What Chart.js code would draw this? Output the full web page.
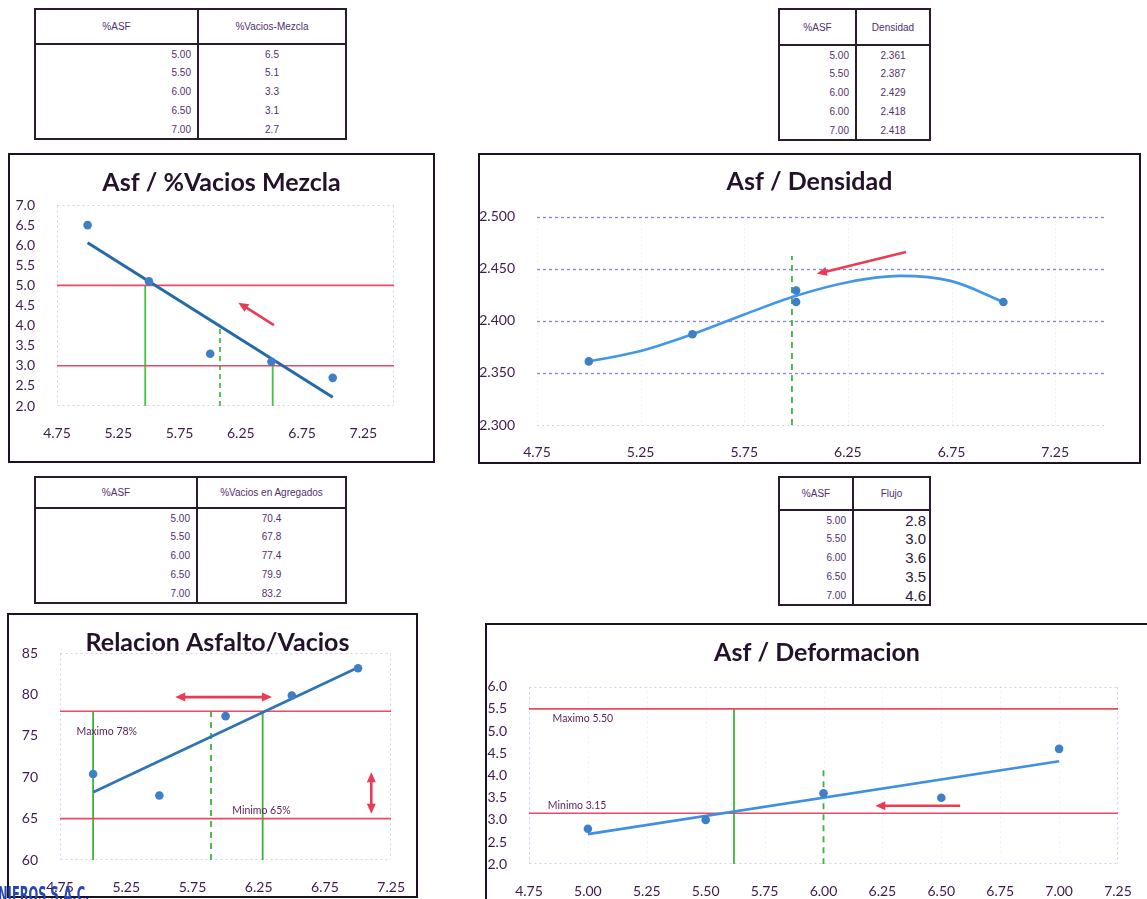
<!DOCTYPE html>
<html lang="es">
<head>
<meta charset="utf-8">
<title>Diseño Marshall – %ASF</title>
<script src="https://cdn.jsdelivr.net/npm/chart.js@4.4.1/dist/chart.umd.min.js"></script>
<style>
  html, body { margin: 0; padding: 0; background: #fff; }
  body { width: 1147px; height: 899px; position: relative; overflow: hidden; }
  .box { position: absolute; border: 2px solid #1d1222; box-sizing: border-box; }
  canvas.plot { position: absolute; }
  table.tb { position: absolute; border-collapse: collapse; table-layout: fixed;
             color: #51306b; font-family: "Liberation Sans", Arial, sans-serif; font-size: 10px; }
  table.tb th, table.tb td { border-left: 2px solid #2a1a2d; border-right: 2px solid #2a1a2d;
             padding: 0; white-space: nowrap; overflow: hidden; }
  table.tb th { border-top: 2px solid #2a1a2d; border-bottom: 2px solid #2a1a2d;
             font-weight: normal; text-align: center; }
  table.tb tr:last-child td { border-bottom: 2px solid #2a1a2d; }
  table.tb td.n { text-align: right; padding-right: 6px; }
  table.tb td.v { text-align: center; }
  table.tb td.big { text-align: right; padding-right: 3px; font-size: 15px; color: #2a2030; }
  .stamp { position: absolute; left: -2px; top: 882px; color: #2747b5; font-weight: bold;
           font-family: "Liberation Sans Narrow", "DejaVu Sans Condensed", sans-serif; font-size: 22px;
           transform: scaleX(0.58); transform-origin: 0 0; white-space: nowrap; }
</style>
</head>
<body>

<div class="box" style="left:8px;top:153px;width:427px;height:310px"></div>
<div class="box" style="left:478px;top:153px;width:663px;height:311px"></div>
<div class="box" style="left:7px;top:613px;width:411px;height:285px"></div>
<div class="box" style="left:485px;top:623px;width:670px;height:290px"></div>

<canvas class="plot" id="cMezcla"></canvas>
<canvas class="plot" id="cDensidad"></canvas>
<canvas class="plot" id="cAgregados"></canvas>
<canvas class="plot" id="cFlujo"></canvas>

<div class="stamp">NIEROS S.A.C.</div>

<script>
// ---------- ensayos Marshall ----------
const asfContent      = [5.00, 5.50, 6.00, 6.50, 7.00];
const asfDensidad     = [5.00, 5.50, 6.00, 6.00, 7.00];
const vaciosMezcla    = [6.5, 5.1, 3.3, 3.1, 2.7];
const densidad        = [2.361, 2.387, 2.429, 2.418, 2.418];
const vaciosAgregados = [70.4, 67.8, 77.4, 79.9, 83.2];
const flujo           = [2.8, 3.0, 3.6, 3.5, 4.6];

// ---------- líneas de tendencia ----------
const trendX         = [5.00, 7.00];
const mezclaTrend    = [6.06, 2.22];
const agregadosTrend = [68.20, 83.28];
const flujoTrend     = [2.68, 4.32];
const densidadCurveX = [5.00, 5.25, 5.50, 5.75, 6.00, 6.25, 6.50, 6.75, 7.00];
const densidadCurveY = [2.361, 2.371, 2.387, 2.406, 2.424, 2.437, 2.443, 2.438, 2.418];

// ---------- límites de especificación ----------
const mezclaLimits    = [5.0, 3.0];
const agregadosLimits = [78, 65];
const flujoLimits     = [5.50, 3.15];

// ---------- lecturas verticales: [%asf, valor superior] ----------
const mezclaSolid     = [[5.47, 5.0], [6.51, 3.1]];
const mezclaDashed    = [[6.08, 4.03]];
const densidadDashed  = [[5.98, 2.462]];
const agregadosSolid  = [[5.00, 78], [6.28, 78]];
const agregadosDashed = [[5.89, 78]];
const flujoSolid      = [[5.62, 5.50]];
const flujoDashed     = [[6.00, 4.16]];

// ---------- flechas y rótulos ----------
const mezclaArrows    = [{ from: [6.52, 4.01], to: [6.23, 4.57] }];
const densidadArrows  = [{ from: [6.53, 2.466], to: [6.10, 2.445] }];
const agregadosArrows = [{ from: [5.62, 79.7], to: [6.35, 79.7], both: true },
                         { from: [7.10, 70.6], to: [7.10, 65.6], both: true }];
const flujoArrows     = [{ from: [6.58, 3.32], to: [6.22, 3.32] }];
const agregadosNotes  = [{ text: 'Maximo 78%', at: [4.875, 75.5] }, { text: 'Minimo 65%', at: [6.05, 66.0] }];
const flujoNotes      = [{ text: 'Maximo 5.50', at: [4.85, 5.29] }, { text: 'Minimo 3.15', at: [4.83, 3.33] }];

// ---------- ticks ----------
const xTicksHalf      = [4.75, 5.25, 5.75, 6.25, 6.75, 7.25];
const xTicksQuarter   = [4.75, 5.00, 5.25, 5.50, 5.75, 6.00, 6.25, 6.50, 6.75, 7.00, 7.25];
const yTicksMezcla    = [2.0, 2.5, 3.0, 3.5, 4.0, 4.5, 5.0, 5.5, 6.0, 6.5, 7.0];
const yTicksDensidad  = [2.300, 2.350, 2.400, 2.450, 2.500];
const yTicksAgregados = [60, 65, 70, 75, 80, 85];
const yTicksFlujo     = [2.0, 2.5, 3.0, 3.5, 4.0, 4.5, 5.0, 5.5, 6.0];

// ---------- tablas ----------
function buildTable(spec) {
  const t = document.createElement('table');
  t.className = 'tb';
  t.style.left = spec.left + 'px';
  t.style.top = spec.top + 'px';
  t.style.width = (spec.widths[0] + spec.widths[1]) + 'px';
  const cg = document.createElement('colgroup');
  spec.widths.forEach(w => { const c = document.createElement('col'); c.style.width = w + 'px'; cg.appendChild(c); });
  t.appendChild(cg);
  const hr = t.insertRow();
  hr.style.height = spec.headH + 'px';
  spec.headers.forEach(h => { const th = document.createElement('th'); th.textContent = h; hr.appendChild(th); });
  spec.col1.forEach((v, i) => {
    const r = t.insertRow();
    r.style.height = spec.rowH + 'px';
    const a = r.insertCell(); a.className = 'n'; a.textContent = v;
    const b = r.insertCell(); b.className = spec.col2Class; b.textContent = spec.col2[i];
  });
  document.body.appendChild(t);
}
const f = d => v => v.toFixed(d);
buildTable({ left: 34, top: 8, widths: [163, 148], headH: 35, rowH: 19, headers: ['%ASF', '%Vacios-Mezcla'],
  col1: asfContent.map(f(2)), col2: vaciosMezcla.map(f(1)), col2Class: 'v' });
buildTable({ left: 778, top: 8, widths: [77, 74], headH: 36, rowH: 19, headers: ['%ASF', 'Densidad'],
  col1: asfDensidad.map(f(2)), col2: densidad.map(f(3)), col2Class: 'v' });
buildTable({ left: 34, top: 476, widths: [162, 149], headH: 31, rowH: 19, headers: ['%ASF', '%Vacios en Agregados'],
  col1: asfContent.map(f(2)), col2: vaciosAgregados.map(f(1)), col2Class: 'v' });
buildTable({ left: 778, top: 476, widths: [74, 77], headH: 33, rowH: 19, headers: ['%ASF', 'Flujo'],
  col1: asfContent.map(f(2)), col2: flujo.map(f(1)), col2Class: 'big' });

// ---------- estilos ----------
const TICK = '#3d1a4a';
const TITLE = '#24112a';
const POINT = '#3f7fc6';
const RED = '#ea4863';
const GREEN = '#3cb43c';
const ARROW = '#e93c55';
const FAINT = 'rgba(175,170,230,0.55)';

const pts = (xs, ys) => xs.map((x, i) => ({ x, y: ys[i] }));
const hline = (v, x0, x1) => [{ x: x0, y: v }, { x: x1, y: v }];
const vline = (xy, bottom) => [{ x: xy[0], y: bottom }, { x: xy[0], y: xy[1] }];

function lineSet(data, color, width, extra) {
  return Object.assign({ data, showLine: true, borderColor: color, backgroundColor: color,
    borderWidth: width, pointRadius: 0, pointHoverRadius: 0, fill: false }, extra || {});
}

// rejilla punteada y marco del área de trazado
function plotGrid(spec) {
  return {
    id: 'plotGrid',
    beforeDatasetsDraw(chart) {
      const { ctx, chartArea: a, scales: { x, y } } = chart;
      const line = (x0, y0, x1, y1, st) => {
        ctx.strokeStyle = st.color; ctx.lineWidth = st.width || 1; ctx.setLineDash(st.dash || []);
        ctx.beginPath(); ctx.moveTo(x0, y0); ctx.lineTo(x1, y1); ctx.stroke();
      };
      ctx.save();
      if (spec.v) x.ticks.forEach(t => {
        const p = Math.round(x.getPixelForValue(t.value)) + 0.5; line(p, a.top, p, a.bottom, spec.v);
      });
      if (spec.h) y.ticks.forEach(t => {
        const st = spec.h(t.value); if (!st) return;
        const p = Math.round(y.getPixelForValue(t.value)) + 0.5; line(a.left, p, a.right, p, st);
      });
      if (spec.frame) {
        const L = Math.round(a.left) + 0.5, R = Math.round(a.right) - 0.5;
        const T = Math.round(a.top) + 0.5, B = Math.round(a.bottom) - 0.5;
        line(L, T, R, T, spec.frame); line(L, B, R, B, spec.frame);
        line(L, T, L, B, spec.frame); line(R, T, R, B, spec.frame);
      }
      ctx.restore();
    }
  };
}

// flechas y rótulos sobre el gráfico
function overlay(spec) {
  return {
    id: 'overlay',
    afterDatasetsDraw(chart) {
      const { ctx, scales: { x, y } } = chart;
      ctx.save();
      (spec.arrows || []).forEach(ar => {
        const x0 = x.getPixelForValue(ar.from[0]), y0 = y.getPixelForValue(ar.from[1]);
        const x1 = x.getPixelForValue(ar.to[0]), y1 = y.getPixelForValue(ar.to[1]);
        const ang = Math.atan2(y1 - y0, x1 - x0);
        const L = 10, W = 4.5;
        const head = (hx, hy, a) => {
          ctx.beginPath();
          ctx.moveTo(hx, hy);
          ctx.lineTo(hx - L * Math.cos(a) + W * Math.sin(a), hy - L * Math.sin(a) - W * Math.cos(a));
          ctx.lineTo(hx - L * Math.cos(a) - W * Math.sin(a), hy - L * Math.sin(a) + W * Math.cos(a));
          ctx.closePath(); ctx.fill();
        };
        ctx.strokeStyle = ARROW; ctx.fillStyle = ARROW; ctx.lineWidth = 2.6; ctx.lineCap = 'butt';
        const sx = ar.both ? x0 + (L - 2) * Math.cos(ang) : x0, sy = ar.both ? y0 + (L - 2) * Math.sin(ang) : y0;
        ctx.beginPath();
        ctx.moveTo(sx, sy);
        ctx.lineTo(x1 - (L - 2) * Math.cos(ang), y1 - (L - 2) * Math.sin(ang));
        ctx.stroke();
        head(x1, y1, ang);
        if (ar.both) head(x0, y0, ang + Math.PI);
      });
      ctx.fillStyle = '#5a1f52';
      ctx.font = '10.5px Lato, "Liberation Sans", sans-serif';
      ctx.textAlign = 'left'; ctx.textBaseline = 'middle';
      (spec.notes || []).forEach(n => ctx.fillText(n.text, x.getPixelForValue(n.at[0]), y.getPixelForValue(n.at[1])));
      ctx.restore();
    }
  };
}

function makeChart(id, o) {
  const g = o.geo;
  const cv = document.getElementById(id);
  cv.width = g.c.w; cv.height = g.c.h;
  cv.style.left = g.c.l + 'px'; cv.style.top = g.c.t + 'px';
  const fs = 25, lh = fs * 1.2;
  const padTop = o.titleY - g.c.t - lh / 2;
  const titleBottom = (g.a.t - g.c.t) - padTop - lh;
  const yW = g.a.l - g.c.l;
  const xH = (g.c.t + g.c.h) - g.a.b;
  const rW = (g.c.l + g.c.w) - g.a.r;
  const tickFont = { family: 'Lato, "Liberation Sans", sans-serif', size: 14 };

  return new Chart(cv, {
    type: 'scatter',
    data: { datasets: o.datasets },
    options: {
      responsive: false, animation: false, devicePixelRatio: 1,
      layout: { padding: { top: padTop, left: 0, right: 0, bottom: 0 } },
      plugins: {
        legend: { display: false }, tooltip: { enabled: false },
        title: { display: true, text: o.title, color: TITLE,
                 font: { family: 'Lato, "Liberation Sans", sans-serif', size: fs, weight: 'bold' },
                 padding: { top: 0, bottom: titleBottom } }
      },
      scales: {
        x: { type: 'linear', min: o.x[0], max: o.x[1],
             afterBuildTicks: s => { s.ticks = o.xTicks.map(v => ({ value: v })); },
             afterFit: s => { s.height = xH; },
             grid: { display: false }, border: { display: false },
             ticks: { padding: 11, color: TICK, font: tickFont, autoSkip: false, maxRotation: 0,
                      callback: v => v.toFixed(2) } },
        y: { type: 'linear', min: o.y[0], max: o.y[1],
             afterBuildTicks: s => { s.ticks = o.yTicks.map(v => ({ value: v })); },
             afterFit: s => { s.width = yW; },
             grid: { display: false }, border: { display: false },
             ticks: { padding: 14, color: TICK, font: tickFont, autoSkip: false,
                      callback: v => v.toFixed(o.yDec) } },
        pad: { type: 'linear', position: 'right', display: true,
               afterFit: s => { s.width = rW; },
               grid: { display: false }, border: { display: false }, ticks: { display: false } }
      }
    },
    plugins: [plotGrid(o.grid), overlay(o.overlay)]
  });
}

const pointStyle = { showLine: false, pointRadius: 4.3, pointHoverRadius: 4.3,
                     backgroundColor: POINT, borderColor: POINT, borderWidth: 0 };

// Asf / %Vacios Mezcla
makeChart('cMezcla', {
  geo: { c: { l: 10, t: 155, w: 423, h: 306 }, a: { l: 57, r: 394, t: 205, b: 406 } },
  titleY: 183.3, title: 'Asf / %Vacios Mezcla',
  x: [4.75, 7.5], y: [2, 7], xTicks: xTicksHalf, yTicks: yTicksMezcla, yDec: 1,
  grid: { frame: { color: FAINT, dash: [2, 3] } },
  overlay: { arrows: mezclaArrows },
  datasets: [
    Object.assign({ data: pts(asfContent, vaciosMezcla) }, pointStyle),
    lineSet(pts(trendX, mezclaTrend), '#256aa8', 3),
    ...mezclaLimits.map(v => lineSet(hline(v, 4.75, 7.5), RED, 1.6)),
    ...mezclaSolid.map(s => lineSet(vline(s, 2), '#46bf46', 1.8)),
    ...mezclaDashed.map(s => lineSet(vline(s, 2), '#46bf46', 1.8, { borderDash: [5, 4] }))
  ]
});

// Asf / Densidad
makeChart('cDensidad', {
  geo: { c: { l: 480, t: 155, w: 659, h: 307 }, a: { l: 537, r: 1107, t: 216.5, b: 425 } },
  titleY: 181.7, title: 'Asf / Densidad',
  x: [4.75, 7.5], y: [2.3, 2.5], xTicks: xTicksHalf, yTicks: yTicksDensidad, yDec: 3,
  grid: {
    v: { color: 'rgba(200,200,235,0.45)', dash: [1, 3] },
    h: v => v > 2.31 ? { color: '#8580e6', dash: [3, 3], width: 1.3 } : { color: FAINT, dash: [2, 3] }
  },
  overlay: { arrows: densidadArrows },
  datasets: [
    Object.assign({ data: pts(asfDensidad, densidad) }, pointStyle),
    lineSet(pts(densidadCurveX, densidadCurveY), '#4496e6', 2.6, { cubicInterpolationMode: 'monotone' }),
    ...densidadDashed.map(s => lineSet(vline(s, 2.3), GREEN, 1.8, { borderDash: [6, 5] }))
  ]
});

// Relacion Asfalto/Vacios
makeChart('cAgregados', {
  geo: { c: { l: 19, t: 615, w: 397, h: 281 }, a: { l: 60, r: 393, t: 653.3, b: 860 } },
  titleY: 643.3, title: 'Relacion Asfalto/Vacios',
  x: [4.75, 7.25], y: [60, 85], xTicks: xTicksHalf, yTicks: yTicksAgregados, yDec: 0,
  grid: { frame: { color: FAINT, dash: [2, 3] } },
  overlay: { arrows: agregadosArrows, notes: agregadosNotes },
  datasets: [
    Object.assign({ data: pts(asfContent, vaciosAgregados) }, pointStyle),
    lineSet(pts(trendX, agregadosTrend), '#2f74b5', 2.6),
    ...agregadosLimits.map(v => lineSet(hline(v, 4.75, 7.25), RED, 1.6)),
    ...agregadosSolid.map(s => lineSet(vline(s, 60), GREEN, 1.8)),
    ...agregadosDashed.map(s => lineSet(vline(s, 60), GREEN, 1.8, { borderDash: [6, 5] }))
  ]
});

// Asf / Deformacion
makeChart('cFlujo', {
  geo: { c: { l: 487, t: 625, w: 660, h: 274 }, a: { l: 529, r: 1118, t: 686.7, b: 864.3 } },
  titleY: 653.3, title: 'Asf / Deformacion',
  x: [4.75, 7.25], y: [2, 6], xTicks: xTicksQuarter, yTicks: yTicksFlujo, yDec: 1,
  grid: { frame: { color: FAINT, dash: [2, 3] }, v: { color: 'rgba(200,200,235,0.45)', dash: [1, 4] } },
  overlay: { arrows: flujoArrows, notes: flujoNotes },
  datasets: [
    Object.assign({ data: pts(asfContent, flujo) }, pointStyle),
    lineSet(pts(trendX, flujoTrend), '#4190e0', 2.6),
    ...flujoLimits.map(v => lineSet(hline(v, 4.75, 7.25), RED, 1.6)),
    ...flujoSolid.map(s => lineSet(vline(s, 2), GREEN, 1.8)),
    ...flujoDashed.map(s => lineSet(vline(s, 2), GREEN, 1.8, { borderDash: [6, 5] }))
  ]
});
</script>
</body>
</html>
